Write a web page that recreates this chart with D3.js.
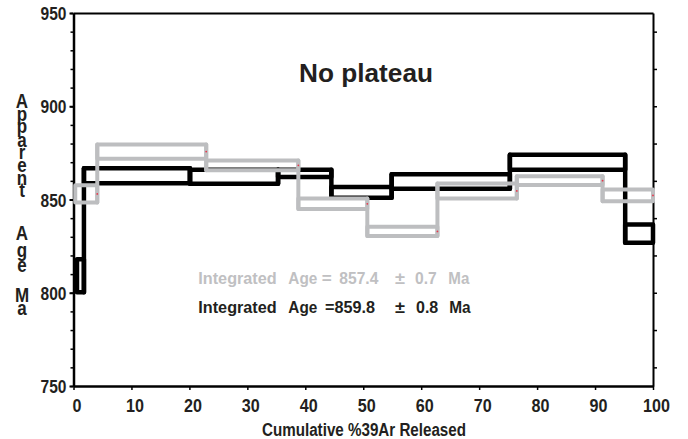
<!DOCTYPE html>
<html>
<head>
<meta charset="utf-8">
<script src="https://cdn.jsdelivr.net/npm/d3@7"></script>
<style>
  html, body { margin: 0; padding: 0; background: #fff; }
  svg { display: block; font-family: "Liberation Sans", Arial, sans-serif; font-weight: bold; }
</style>
</head>
<body>
<svg id="chart" width="688" height="439"></svg>
<script>
// ---- data ----
// cumulative %39Ar boundaries of each heating step
const blackCum = [0.6, 1.8, 20.1, 35.3, 44.5, 54.9, 75.3, 95.2, 100];
const blackAge = [809.1, 862.7, 862.2, 864.0, 853.8, 859.6, 870.0, 831.7];
const blackErr = [8.8, 4.0, 3.8, 2.0, 2.9, 3.9, 4.0, 4.9];

const grayCum = [0.3, 4.1, 22.9, 38.8, 50.7, 62.8, 76.5, 91.3, 100];
const grayAge = [853.0, 875.7, 868.3, 847.7, 832.9, 854.6, 860.1, 852.2];
const grayErr = [4.6, 3.8, 2.6, 2.8, 2.5, 4.0, 2.3, 3.1];

const yMajorTicks = [750, 800, 850, 900, 950];
const xTicks = [0, 10, 20, 30, 40, 50, 60, 70, 80, 90, 100];
const chartTitle = "No plateau";
const xTitle = "Cumulative %39Ar Released";
const yTitleLetters = ["A","p","p","a","r","e","n","t","A","g","e","M","a"];
const grayLabel = ["Integrated", "Age", "=", "857.4", "±", "0.7", "Ma"];
const blackLabel = ["Integrated", "Age", "=859.8", "±", "0.8", "Ma"];

// ---- layout ----
const svg = d3.select("#chart");
const x = d3.scaleLinear().domain([0, 100]).range([73.5, 653]);
const y = d3.scaleLinear().domain([750, 950]).range([386, 13]);

const BLACK = "#000";
const GRAY = "#bdbec0";

function condense(sel, f) {
  sel.each(function () {
    const w = this.getComputedTextLength();
    d3.select(this).attr("textLength", w * f).attr("lengthAdjust", "spacingAndGlyphs");
  });
}

function drawSeries(cum, age, err, color, width) {
  const g = svg.append("g");
  const steps = age.map((a, i) => ({ x0: cum[i], x1: cum[i + 1], lo: a - err[i], hi: a + err[i] }));
  g.selectAll("rect").data(steps).join("rect")
    .attr("x", d => x(d.x0)).attr("width", d => x(d.x1) - x(d.x0))
    .attr("y", d => y(d.hi)).attr("height", d => y(d.lo) - y(d.hi))
    .attr("fill", "none").attr("stroke", color).attr("stroke-width", width)
    .attr("stroke-linejoin", "round");
  const conns = steps.slice(1).map((d, i) => {
    const p = steps[i];
    return { xb: d.x0, lo: Math.min(d.lo, p.lo), hi: Math.max(d.hi, p.hi) };
  });
  g.selectAll("line").data(conns).join("line")
    .attr("x1", d => x(d.xb)).attr("x2", d => x(d.xb))
    .attr("y1", d => y(d.lo)).attr("y2", d => y(d.hi))
    .attr("stroke", color).attr("stroke-width", width).attr("stroke-linecap", "round");
  return { g, steps };
}

// axes
const leftMinor = svg.append("g").attr("transform", `translate(${x(0)},0)`);
leftMinor.call(d3.axisLeft(y).tickValues(d3.range(750, 951, 10)).tickSize(3).tickSizeOuter(0).tickFormat(""));
leftMinor.selectAll(".tick line").attr("stroke-width", 1.5);
const leftMaj = svg.append("g").attr("transform", `translate(${x(0)},0)`);
leftMaj.call(d3.axisLeft(y).tickValues(yMajorTicks).tickSize(4).tickSizeOuter(0).tickPadding(3));
leftMaj.select(".domain").attr("stroke-width", 2.5);
leftMaj.selectAll(".tick line").attr("stroke-width", 2);
leftMaj.selectAll(".tick text").attr("font-size", 18.5).attr("font-weight", "bold")
  .attr("font-family", "Liberation Sans, Arial, sans-serif").attr("fill", "#231f20")
  .attr("dy", "0.36em");
condense(leftMaj.selectAll(".tick text"), 0.84);

const bottomAxis = svg.append("g").attr("transform", `translate(0,${y(750)})`);
bottomAxis.call(d3.axisBottom(x).tickValues(xTicks).tickSize(4).tickSizeOuter(0));
bottomAxis.select(".domain").attr("stroke-width", 2.5);
bottomAxis.selectAll(".tick line").attr("stroke-width", 1.5);
bottomAxis.selectAll(".tick text").attr("font-size", 19).attr("font-weight", "bold")
  .attr("font-family", "Liberation Sans, Arial, sans-serif").attr("fill", "#231f20")
  .attr("y", 26).attr("dy", 0).attr("x", 3);
condense(bottomAxis.selectAll(".tick text"), 0.85);

const rightAxis = svg.append("g").attr("transform", `translate(${x(100)},0)`);
rightAxis.call(d3.axisRight(y).tickValues(d3.range(760, 950, 20)).tickSize(4).tickSizeOuter(0).tickFormat(""));
rightAxis.select(".domain").attr("stroke-width", 2);
rightAxis.selectAll(".tick line").attr("stroke-width", 1.5);

const topAxis = svg.append("g").attr("transform", `translate(0,${y(950)})`);
topAxis.call(d3.axisTop(x).tickValues([]).tickSizeOuter(0));
topAxis.select(".domain").attr("stroke-width", 2);

// series
const gs = drawSeries(blackCum, blackAge, blackErr, BLACK, 4.5);
const gr = drawSeries(grayCum, grayAge, grayErr, GRAY, 4);
gr.g.selectAll("circle").data(gr.steps).join("circle")
  .attr("cx", d => x(d.x1)).attr("cy", d => y((d.lo + d.hi) / 2))
  .attr("r", 0.9).attr("fill", "#e8364a");

// title
svg.append("text").attr("x", 299).attr("y", 82).attr("font-size", 26)
  .attr("fill", "#231f20").attr("textLength", 134).attr("lengthAdjust", "spacingAndGlyphs")
  .text(chartTitle);

// integrated age labels
const grayPos = [[198.3, 78.4], [288.3, 29], [321.7, 10], [339.3, 39], [395, 10], [415, 21.7], [448.3, 21]];
const blackPos = [[198.3, 78.4], [288.3, 29], [325, 50], [395, 10], [416, 22.3], [449.3, 21.4]];
function label(pieces, pos, baseline, color) {
  const t = svg.append("text").attr("y", baseline).attr("font-size", 17).attr("fill", color);
  pieces.forEach((p, i) => {
    t.append("tspan").attr("x", pos[i][0]).attr("textLength", pos[i][1])
      .attr("lengthAdjust", "spacingAndGlyphs").text(p);
  });
}
label(grayLabel, grayPos, 283.5, "#c0c0c2");
label(blackLabel, blackPos, 312.5, "#231f20");

// y title (stacked letters, one text element)
const letterBase = [108, 121, 133, 147, 158.5, 172, 185, 197, 240, 256.7, 272, 302, 315];
const yt = svg.append("text").attr("text-anchor", "middle").attr("font-size", 20).attr("fill", "#231f20");
yTitleLetters.forEach((l, i) => {
  yt.append("tspan").attr("x", 22).attr("y", letterBase[i]).text(l);
});
condense(yt.selectAll("tspan"), 0.85);

// x title
svg.append("text").attr("x", 262).attr("y", 436).attr("font-size", 18)
  .attr("fill", "#231f20").attr("textLength", 204).attr("lengthAdjust", "spacingAndGlyphs")
  .text(xTitle);
</script>
</body>
</html>
